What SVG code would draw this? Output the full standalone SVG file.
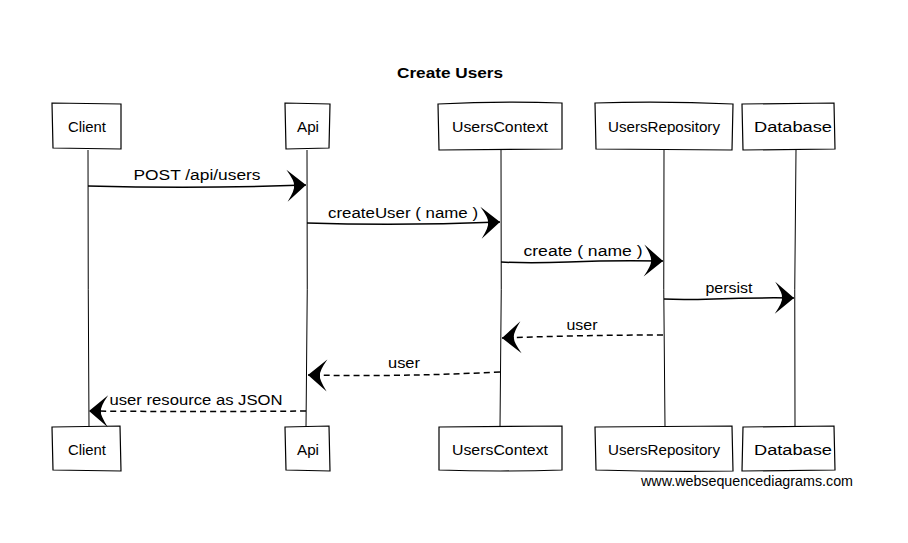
<svg xmlns="http://www.w3.org/2000/svg" width="908" height="543" viewBox="0 0 908 543">
  <style>
    .box { fill: #fff; stroke: #000; stroke-width: 1.2; }
    .life { fill: none; stroke: #000; stroke-width: 1; }
    .msg { fill: none; stroke: #000; stroke-width: 1.5; }
    .ret { fill: none; stroke: #000; stroke-width: 1.5; stroke-dasharray: 6 4; }
    .lbl { font-family: "Liberation Sans", Arial, sans-serif; font-size: 14px; fill: #000; }
    .title { font-family: "Liberation Sans", Arial, sans-serif; font-size: 15px; font-weight: bold; fill: #000; }
    .mark { font-family: "Liberation Sans", Arial, sans-serif; font-size: 14px; fill: #000; }
  </style>
  <defs>
    <marker id="head" markerUnits="userSpaceOnUse" markerWidth="30" markerHeight="40" viewBox="-24 -20 30 40" refX="0" refY="0" orient="auto">
      <path d="M0,0 L-19,-16 Q-11,-4 -12,0 Q-11,4 -19,16 Z" fill="#000"/>
    </marker>
  </defs>

  <rect width="908" height="543" fill="#fff"/>

  <text class="title" x="450" y="78" text-anchor="middle" textLength="106" lengthAdjust="spacingAndGlyphs">Create Users</text>

  <!-- lifelines -->
  <g id="lifelines">
    <path class="life" d="M88,150 Q88,290 89,427"/>
    <path class="life" d="M307,150 Q308,290 306,427"/>
    <path class="life" d="M501,150 Q502,290 500,427"/>
    <path class="life" d="M664,150 Q663,290 665,427"/>
    <path class="life" d="M796,150 Q794,290 795,427"/>
  </g>

  <!-- participants, top -->
  <g id="client-top">
    <path class="box" d="M52,103 L121,104 L121,149 L53,148 Z"/>
    <text class="lbl" x="87" y="132" text-anchor="middle" textLength="38" lengthAdjust="spacingAndGlyphs">Client</text>
  </g>
  <g id="api-top">
    <path class="box" d="M285,103 L330,104 L329,148 L286,149 Z"/>
    <text class="lbl" x="308" y="132" text-anchor="middle" textLength="22" lengthAdjust="spacingAndGlyphs">Api</text>
  </g>
  <g id="userscontext-top">
    <path class="box" d="M438,104 Q500,101 562,103 L562,149 L439,150 Z"/>
    <text class="lbl" x="500" y="132" text-anchor="middle" textLength="96" lengthAdjust="spacingAndGlyphs">UsersContext</text>
  </g>
  <g id="usersrepository-top">
    <path class="box" d="M595,103 Q664,101 733,104 L732,150 L596,149 Z"/>
    <text class="lbl" x="664" y="132" text-anchor="middle" textLength="112" lengthAdjust="spacingAndGlyphs">UsersRepository</text>
  </g>
  <g id="database-top">
    <path class="box" d="M742,104 L834,103 L835,149 L743,150 Z"/>
    <text class="lbl" x="793" y="132" text-anchor="middle" textLength="78" lengthAdjust="spacingAndGlyphs">Database</text>
  </g>

  <!-- participants, bottom -->
  <g id="client-bottom">
    <path class="box" d="M52,427 L120,426 L121,471 L53,470 Z"/>
    <text class="lbl" x="87" y="455" text-anchor="middle" textLength="38" lengthAdjust="spacingAndGlyphs">Client</text>
  </g>
  <g id="api-bottom">
    <path class="box" d="M285,427 L329,426 L330,471 L286,470 Z"/>
    <text class="lbl" x="308" y="455" text-anchor="middle" textLength="22" lengthAdjust="spacingAndGlyphs">Api</text>
  </g>
  <g id="userscontext-bottom">
    <path class="box" d="M439,427 L562,426 L562,470 Q500,472 439,470 Z"/>
    <text class="lbl" x="500" y="455" text-anchor="middle" textLength="96" lengthAdjust="spacingAndGlyphs">UsersContext</text>
  </g>
  <g id="usersrepository-bottom">
    <path class="box" d="M595,427 L732,426 L733,471 Q664,472 596,470 Z"/>
    <text class="lbl" x="664" y="455" text-anchor="middle" textLength="112" lengthAdjust="spacingAndGlyphs">UsersRepository</text>
  </g>
  <g id="database-bottom">
    <path class="box" d="M743,427 L834,426 L835,470 L742,471 Z"/>
    <text class="lbl" x="793" y="455" text-anchor="middle" textLength="78" lengthAdjust="spacingAndGlyphs">Database</text>
  </g>

  <!-- messages -->
  <g id="connectors">
    <path class="msg" d="M88,186 Q200,189 306,185" marker-end="url(#head)"/>
    <path class="msg" d="M307,223 Q400,226 500,222" marker-end="url(#head)"/>
    <path class="msg" d="M501,262 C560,265 570,259 663,261" marker-end="url(#head)"/>
    <path class="msg" d="M664,299 C700,301 720,297 794,298" marker-end="url(#head)"/>
    <path class="ret" d="M663,335 Q580,335 502,338" marker-end="url(#head)"/>
    <path class="ret" d="M500,372 Q400,377 308,375" marker-end="url(#head)"/>
    <path class="ret" d="M306,411 Q200,412 89,411" marker-end="url(#head)"/>
  </g>

  <g id="labels">
    <text class="lbl" x="197" y="180" text-anchor="middle" textLength="127" lengthAdjust="spacingAndGlyphs">POST /api/users</text>
    <text class="lbl" x="403" y="218" text-anchor="middle" textLength="150" lengthAdjust="spacingAndGlyphs">createUser ( name )</text>
    <text class="lbl" x="583" y="256" text-anchor="middle" textLength="119" lengthAdjust="spacingAndGlyphs">create ( name )</text>
    <text class="lbl" x="729" y="293" text-anchor="middle" textLength="47" lengthAdjust="spacingAndGlyphs">persist</text>
    <text class="lbl" x="582" y="330" text-anchor="middle" textLength="31" lengthAdjust="spacingAndGlyphs">user</text>
    <text class="lbl" x="404" y="368" text-anchor="middle" textLength="32" lengthAdjust="spacingAndGlyphs">user</text>
    <text class="lbl" x="196" y="405" text-anchor="middle" textLength="173" lengthAdjust="spacingAndGlyphs">user resource as JSON</text>
  </g>

  <text class="mark" x="641" y="486" textLength="212" lengthAdjust="spacingAndGlyphs">www.websequencediagrams.com</text>
</svg>
